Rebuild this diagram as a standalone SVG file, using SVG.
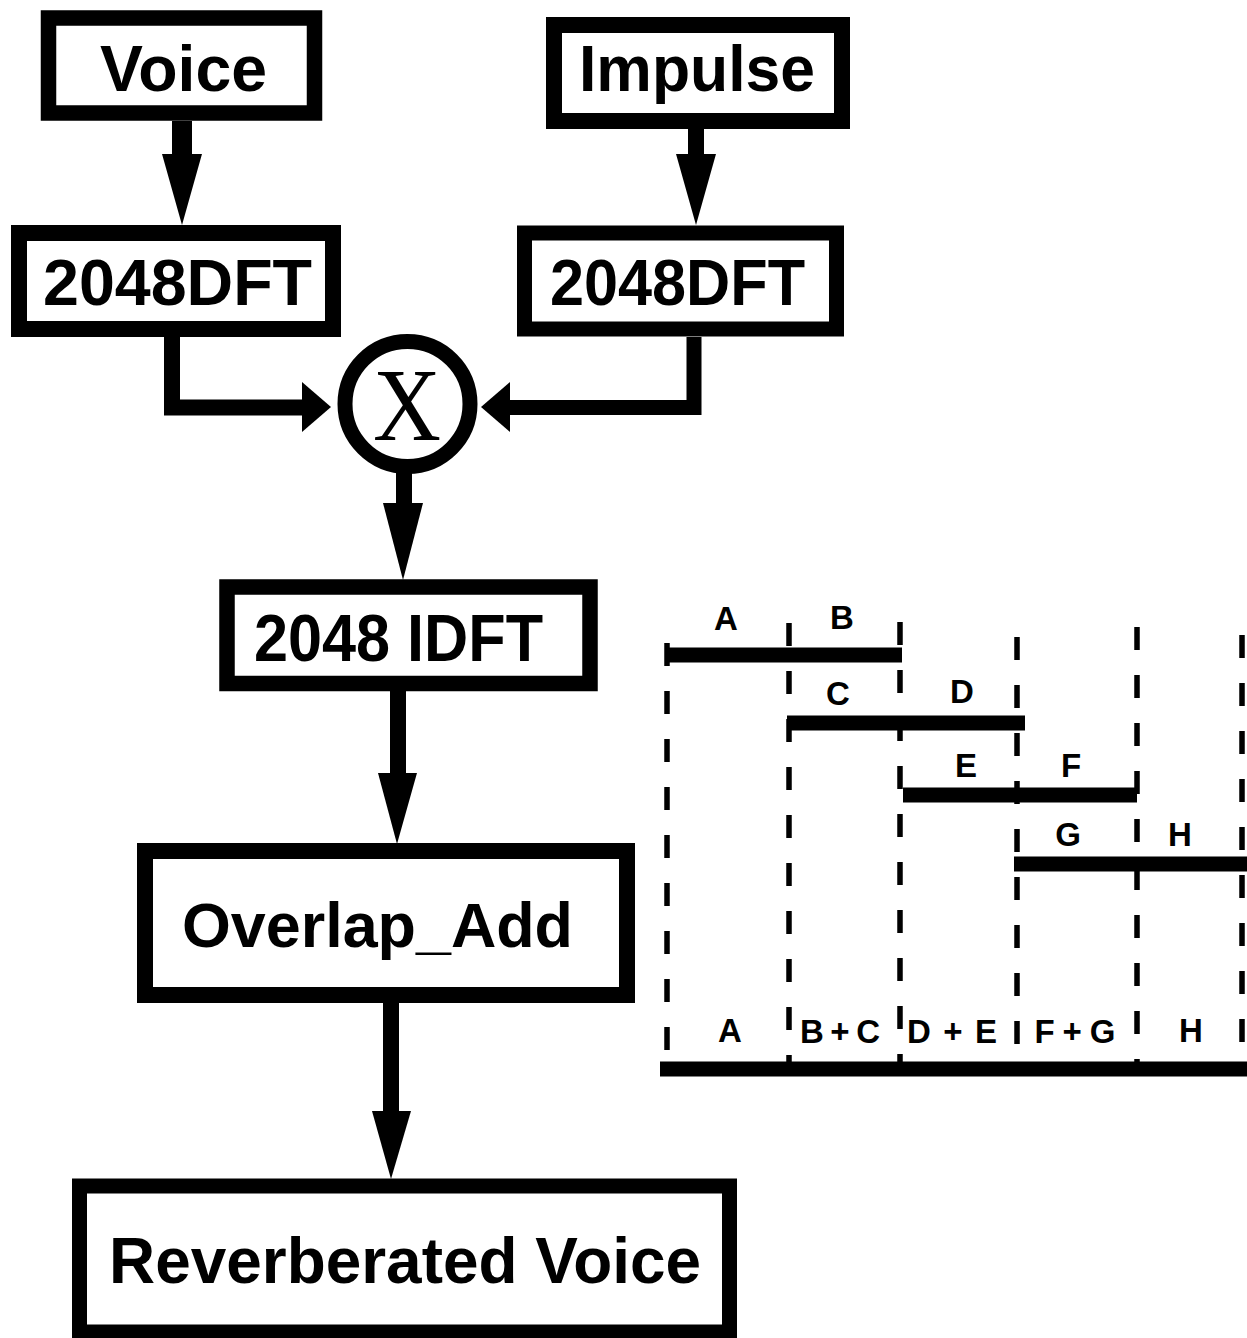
<svg xmlns="http://www.w3.org/2000/svg" width="1247" height="1338" viewBox="0 0 1247 1338">
<style>
.box{fill:#fff;stroke:#000;stroke-linejoin:miter}
.lbl{font-family:"Liberation Sans",Arial,Helvetica,sans-serif;font-weight:bold;fill:#000}
.big{font-size:64px}
.shaft{fill:none;stroke:#000;stroke-linejoin:miter;stroke-linecap:butt}
.head{fill:#000}
.bar{stroke:#000;stroke-width:15;stroke-linecap:butt}
.dash{stroke:#000;stroke-width:5.5;stroke-dasharray:23 25;fill:none}
.sm{font-size:33px;text-anchor:middle}
</style>
<rect width="1247" height="1338" fill="#fff"/>
<g id="connectors">
  <line class="shaft" x1="182" y1="121" x2="182" y2="160" stroke-width="20"/>
  <polygon class="head" points="162,154 202,154 182,225"/>
  <line class="shaft" x1="696" y1="129" x2="696" y2="160" stroke-width="16"/>
  <polygon class="head" points="676,154 716,154 696,225"/>
  <path class="shaft" d="M172,337 V407.5 H305" stroke-width="16"/>
  <polygon class="head" points="302,382 331,407 302,432"/>
  <path class="shaft" d="M694,337 V407.5 H507" stroke-width="15"/>
  <polygon class="head" points="510,382 481,407 510,432"/>
  <line class="shaft" x1="404" y1="470" x2="404" y2="506" stroke-width="16"/>
  <polygon class="head" points="383,503 423,503 403,580"/>
  <line class="shaft" x1="398" y1="690" x2="398" y2="776" stroke-width="16"/>
  <polygon class="head" points="378,773 417,773 397,844"/>
  <line class="shaft" x1="391" y1="1002" x2="391" y2="1114" stroke-width="16"/>
  <polygon class="head" points="372,1111 411,1111 391,1179"/>
</g>
<g id="voice">
  <rect class="box" x="48.5" y="18" width="266" height="95" stroke-width="15.5"/>
  <text class="lbl big" x="100" y="91" textLength="167" lengthAdjust="spacingAndGlyphs">Voice</text>
</g>
<g id="impulse">
  <rect class="box" x="554" y="25" width="288" height="96" stroke-width="16"/>
  <text class="lbl big" x="579" y="91" textLength="236" lengthAdjust="spacingAndGlyphs">Impulse</text>
</g>
<g id="dft-voice">
  <rect class="box" x="19" y="233" width="314" height="96" stroke-width="16"/>
  <text class="lbl big" x="43" y="305" textLength="269" lengthAdjust="spacingAndGlyphs">2048DFT</text>
</g>
<g id="dft-impulse">
  <rect class="box" x="524.5" y="233" width="312" height="96" stroke-width="15"/>
  <text class="lbl big" x="550" y="305" textLength="255" lengthAdjust="spacingAndGlyphs">2048DFT</text>
</g>
<g id="multiply">
  <circle cx="407.5" cy="404" r="62.5" fill="#fff" stroke="#000" stroke-width="15"/>
  <text x="373" y="440" font-family="'Liberation Serif','Times New Roman',serif" font-size="104" textLength="68" lengthAdjust="spacingAndGlyphs">X</text>
</g>
<g id="idft">
  <rect class="box" x="227" y="587" width="363" height="96.5" stroke-width="15.5"/>
  <text class="lbl" font-size="66" x="254" y="661" textLength="289" lengthAdjust="spacingAndGlyphs">2048 IDFT</text>
</g>
<g id="overlap-add">
  <rect class="box" x="145" y="851" width="482" height="144" stroke-width="16"/>
  <text class="lbl" font-size="63" x="182" y="947" textLength="391" lengthAdjust="spacingAndGlyphs">Overlap_Add</text>
</g>
<g id="reverberated-voice">
  <rect class="box" x="79.5" y="1186" width="650" height="146" stroke-width="15"/>
  <text class="lbl big" x="109" y="1283" textLength="592" lengthAdjust="spacingAndGlyphs">Reverberated Voice</text>
</g>
<g id="overlap-chart">
  <line class="dash" x1="667" y1="643" x2="667" y2="1052"/>
  <line class="dash" x1="789" y1="623" x2="789" y2="1064"/>
  <line class="dash" x1="900" y1="622" x2="900" y2="1062"/>
  <line class="dash" x1="1017" y1="637" x2="1017" y2="1045"/>
  <line class="dash" x1="1137" y1="627" x2="1137" y2="1062"/>
  <line class="dash" x1="1242" y1="635" x2="1242" y2="1045"/>
  <line class="bar" x1="665" y1="655" x2="902" y2="655"/>
  <line class="bar" x1="787" y1="723" x2="1025" y2="723"/>
  <line class="bar" x1="903" y1="795" x2="1137" y2="795"/>
  <line class="bar" x1="1014" y1="864" x2="1247" y2="864"/>
  <line class="bar" x1="660" y1="1069" x2="1247" y2="1069" stroke-width="16"/>
  <text class="lbl sm" x="726" y="630">A</text>
  <text class="lbl sm" x="842" y="629">B</text>
  <text class="lbl sm" x="838" y="705">C</text>
  <text class="lbl sm" x="962" y="703">D</text>
  <text class="lbl sm" x="966" y="777">E</text>
  <text class="lbl sm" x="1071" y="777">F</text>
  <text class="lbl sm" x="1068" y="846">G</text>
  <text class="lbl sm" x="1180" y="846">H</text>
  <text class="lbl sm" x="730" y="1042">A</text>
  <text class="lbl sm" x="840" y="1043" textLength="80" lengthAdjust="spacing">B+C</text>
  <text class="lbl sm" x="952" y="1043" textLength="90" lengthAdjust="spacing">D + E</text>
  <text class="lbl sm" x="1075" y="1043" textLength="81" lengthAdjust="spacing">F+G</text>
  <text class="lbl sm" x="1191" y="1042">H</text>
</g>
</svg>
